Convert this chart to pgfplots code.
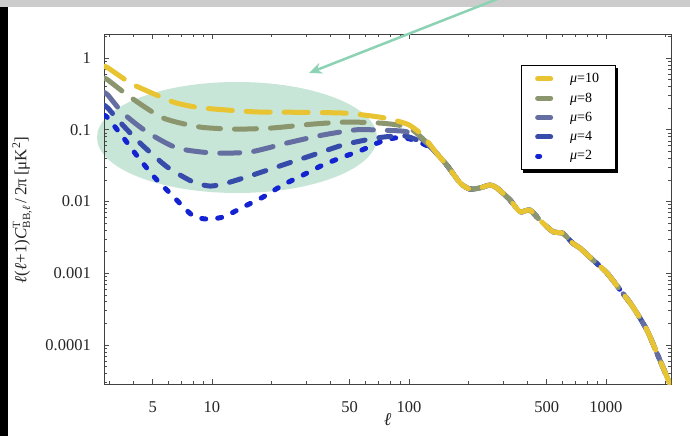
\documentclass[border=0pt]{standalone}
\usepackage{pgfplots}
\pgfplotsset{compat=1.18}
\usepackage{fontspec}
\setmainfont{Liberation Serif}
\usetikzlibrary{arrows.meta}
\definecolor{cA}{RGB}{232,195,50}
\definecolor{cB}{RGB}{140,150,110}
\definecolor{cC}{RGB}{100,110,160}
\definecolor{cD}{RGB}{55,75,170}
\definecolor{cE}{RGB}{20,35,210}
\definecolor{ellg}{RGB}{200,230,215}
\definecolor{arrg}{RGB}{140,210,180}
\begin{document}
\begin{tikzpicture}
\path[use as bounding box] (0pt,0pt) rectangle (690pt,436pt);
\fill[white] (0pt,0pt) rectangle (690pt,436pt);
\fill[black] (0pt,0pt) rectangle (8pt,429pt);
\fill[gray!40] (0pt,429pt) rectangle (690pt,436pt);
\fill[ellg] (237pt,298.5pt) ellipse [x radius=140pt, y radius=55.5pt];
\begin{axis}[
  at={(104pt,52pt)}, anchor=south west,
  width=567pt, height=350pt, scale only axis,
  xmode=log, ymode=log,
  xmin=2.83, xmax=2140, ymin=2.86e-5, ymax=2.16,
  xtick={5,10,50,100,500,1000}, xticklabels={5,10,50,100,500,1000},
  minor xtick={3,4,6,7,8,9,20,30,40,60,70,80,90,200,300,400,600,700,800,900,2000},
  ytick={1e-4,1e-3,1e-2,1e-1,1}, yticklabels={0.0001,0.001,0.01,0.1,1},
  minor ytick={3e-5,4e-5,5e-5,6e-5,7e-5,8e-5,9e-5,2e-4,3e-4,4e-4,5e-4,6e-4,7e-4,8e-4,9e-4,2e-3,3e-3,4e-3,5e-3,6e-3,7e-3,8e-3,9e-3,0.02,0.03,0.04,0.05,0.06,0.07,0.08,0.09,0.2,0.3,0.4,0.5,0.6,0.7,0.8,0.9,2},
  tick align=inside, major tick length=5pt, minor tick length=3pt,
  every tick/.style={black!70, line width=0.6pt},
  axis line style={black!75, line width=0.9pt},
  /pgf/number format/assume math mode=true,
  tick label style={font=\fontsize{16.5}{18}\selectfont, text=black!85, inner sep=0pt},
  yticklabel style={xshift=-13pt},
  xticklabel style={yshift=-17pt},
  xlabel={\textit{ℓ}},
  xlabel style={at={(axis description cs:0.5,-0.103)}, anchor=center, font=\fontsize{18}{20}\selectfont, text=black!85},
  ylabel={\textit{ℓ}(\textit{ℓ}+1)\textit{C}\rlap{\raisebox{0.8ex}{\fontsize{11}{11}\selectfont T}}\raisebox{-0.5ex}{\fontsize{11}{11}\selectfont BB,\textit{ℓ}}\,/\,2π\,[μK\textsuperscript{2}]},
  ylabel style={at={(axis description cs:-0.1446,0.497)}, anchor=center, font=\fontsize{17}{19}\selectfont, text=black!85},
  legend style={name=leg, at={(0.735,0.911)}, anchor=north west, draw=black, line width=0.8pt, fill=white,
    font=\fontsize{14}{16}\selectfont, inner xsep=14pt, inner ysep=6pt, row sep=4.5pt, column sep=10pt},
  legend cell align=left,
  reverse legend,
  legend image code/.code={\draw[#1] (0pt,0pt) -- (18pt,0pt);},
  every axis plot/.append style={line width=5pt, line cap=round, smooth, tension=0.4},
]
\addplot[cE, dash pattern=on 4pt off 12pt, legend image post style={dash pattern=on 2pt off 50pt}] table {
2.83 0.16
2.96 0.146
3.53 0.0792
4.21 0.0417
5.14 0.0213
6.12 0.0131
7.91 0.00648
9.33 0.0057
11.4 0.00608
14.4 0.00838
18.2 0.01156
22.9 0.017
29 0.0234
36.6 0.0323
46.2 0.0417
57.7 0.0522
71.3 0.0675
85 0.077
100 0.075
115 0.066
128 0.056
140 0.045
156 0.032
182 0.0181
204 0.0149
230 0.0155
258 0.0170
280 0.0154
326 0.0105
366 0.0072
411 0.0076
462 0.0055
538 0.0038
605 0.0036
680 0.0026
738 0.00225
859 0.00153
1012 0.00101
1178 0.00059
1371 0.00034
1614 0.000162
1815 0.000077
2042 0.000036
2120 0.000028
};
\addlegendentry{\textit{μ}=2}
\addplot[cD, dash pattern=on 12pt off 14pt, legend image post style={dash pattern=on 13pt off 50pt}] table {
2.83 0.22
2.96 0.201
3.41 0.128
4.31 0.0654
5.92 0.0303
8.02 0.0187
9.8 0.0164
11.9 0.0181
16.1 0.0234
22.9 0.0323
32.6 0.0445
46.2 0.0613
63.4 0.074
77 0.08
95 0.082
110 0.072
128 0.058
140 0.045
156 0.032
182 0.0181
204 0.0149
230 0.0155
258 0.0170
280 0.0154
326 0.0105
366 0.0072
411 0.0076
462 0.0055
538 0.0038
605 0.0036
680 0.0026
738 0.00225
859 0.00153
1012 0.00101
1178 0.00059
1371 0.00034
1614 0.000162
1815 0.000077
2042 0.000036
2120 0.000028
};
\addlegendentry{\textit{μ}=4}
\addplot[cC, dash pattern=on 20pt off 14pt, legend image post style={dash pattern=on 13pt off 50pt}] table {
2.83 0.33
2.96 0.305
3.53 0.171
4.68 0.093
6.64 0.0557
10.1 0.0474
15.6 0.049
24 0.0653
36.6 0.0845
54.5 0.1
77 0.098
95 0.095
110 0.083
128 0.059
140 0.045
156 0.032
182 0.0181
204 0.0149
230 0.0155
258 0.0170
280 0.0154
326 0.0105
366 0.0072
411 0.0076
462 0.0055
538 0.0038
605 0.0036
680 0.0026
738 0.00225
859 0.00153
1012 0.00101
1178 0.00059
1371 0.00034
1614 0.000162
1815 0.000077
2042 0.000036
2120 0.000028
};
\addlegendentry{\textit{μ}=6}
\addplot[cB, dash pattern=on 22pt off 14pt, legend image post style={dash pattern=on 13pt off 50pt}] table {
2.83 0.52
2.96 0.494
3.84 0.286
5.64 0.146
8.69 0.109
13.4 0.102
20.4 0.106
32.6 0.120
48.4 0.128
71 0.124
90 0.115
105 0.098
128 0.06
140 0.045
156 0.032
182 0.0181
204 0.0149
230 0.0155
258 0.0170
280 0.0154
326 0.0105
366 0.0072
411 0.0076
462 0.0055
538 0.0038
605 0.0036
680 0.0026
738 0.00225
859 0.00153
1012 0.00101
1178 0.00059
1371 0.00034
1614 0.000162
1815 0.000077
2042 0.000036
2120 0.000028
};
\addlegendentry{\textit{μ}=8}
\addplot[cA, dash pattern=on 24pt off 14pt, legend image post style={dash pattern=on 13pt off 50pt}] table {
2.83 0.76
2.96 0.73
3.84 0.449
4.57 0.358
6.34 0.244
8 0.21
10.1 0.195
16.9 0.177
29 0.175
48 0.170
71 0.150
85 0.135
100 0.117
115 0.088
128 0.062
140 0.045
156 0.032
182 0.0181
204 0.0149
230 0.0155
258 0.0170
280 0.0154
326 0.0105
366 0.0072
411 0.0076
462 0.0055
538 0.0038
605 0.0036
680 0.0026
738 0.00225
859 0.00153
1012 0.00101
1178 0.00059
1371 0.00034
1614 0.000162
1815 0.000077
2042 0.000036
2120 0.000028
};
\addlegendentry{\textit{μ}=10}
\end{axis}
\fill[black] ([shift={(2.5pt,-3pt)}]leg.south west) rectangle ([shift={(3pt,-0.4pt)}]leg.south east);
\fill[black] ([shift={(0.4pt,-2.5pt)}]leg.north east) rectangle ([shift={(3pt,-3pt)}]leg.south east);
\draw[arrg, line width=2.5pt, -{Stealth[length=13pt,width=11pt,open]}] (505pt,440pt) -- (309pt,363pt);
\end{tikzpicture}
\end{document}
